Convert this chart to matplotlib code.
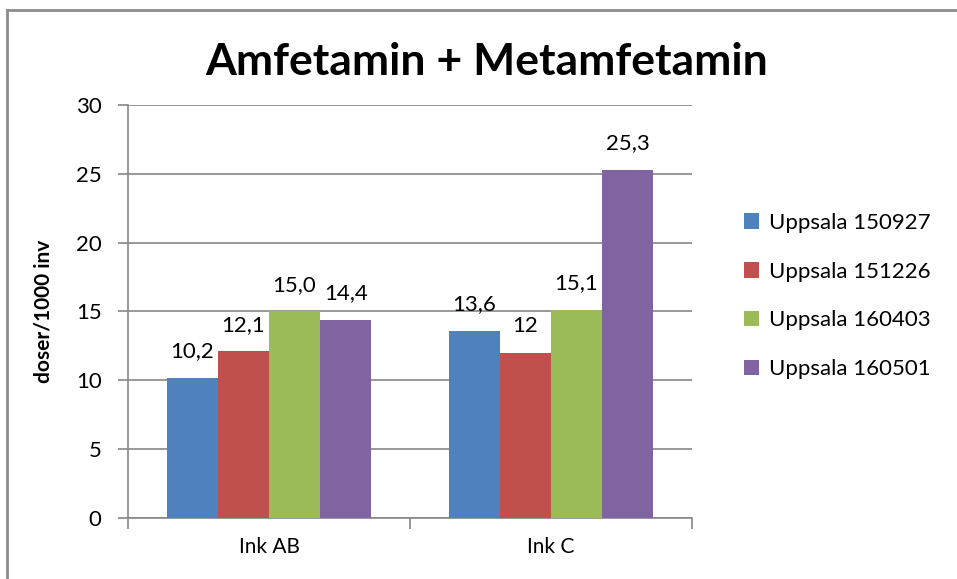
import numpy as np
import matplotlib
matplotlib.use("Agg")
import matplotlib.pyplot as plt
from matplotlib.lines import Line2D
from matplotlib.patches import Patch

plt.rcParams['font.family'] = ['Lato', 'DejaVu Sans']

categories = ['Ink AB', 'Ink C']
series = ['Uppsala 150927', 'Uppsala 151226', 'Uppsala 160403', 'Uppsala 160501']
values = [
    [10.2, 13.6],
    [12.1, 12.0],
    [15.0, 15.1],
    [14.4, 25.3],
]
labels = [
    ['10,2', '13,6'],
    ['12,1', '12'],
    ['15,0', '15,1'],
    ['14,4', '25,3'],
]
colors = ['#4F81BD', '#C0504D', '#9BBB59', '#8064A2']
yticks = [0, 5, 10, 15, 20, 25, 30]

fig = plt.figure(figsize=(9.57, 5.79), dpi=100)
ax = fig.add_axes([0.1338, 0.1054, 0.5893, 0.7133])

x = np.arange(len(categories))
bw = 0.181
for i, (vals, lab, c) in enumerate(zip(values, labels, colors)):
    pos = x + (i - 1.5) * bw
    ax.bar(pos, vals, width=bw, color=c, zorder=3)
    for p, v, t in zip(pos, vals, lab):
        ax.text(p, v + 1.2, t, ha='center', va='bottom', fontsize=16, color='black')

ax.set_xlim(-0.5, 1.5)
ax.set_ylim(0, 30)
ax.set_yticks(yticks)
ax.set_yticklabels([str(t) for t in yticks], fontsize=16)
ax.yaxis.grid(True, color='#868686', linewidth=1.2, zorder=0)
ax.tick_params(axis='y', length=7, color='#868686', width=1.2, pad=12)

ax.set_xticks([-0.5, 0.5, 1.5])
ax.set_xticklabels([])
ax.tick_params(axis='x', which='major', length=8, color='#868686', width=1.2)
ax.set_xticks(x, minor=True)
ax.set_xticklabels(categories, minor=True, fontsize=15)
ax.tick_params(axis='x', which='minor', length=0, pad=14)

for s in ['top', 'right']:
    ax.spines[s].set_visible(False)
for s in ['left', 'bottom']:
    ax.spines[s].set_color('#868686')
    ax.spines[s].set_linewidth(1.2)

ax.set_ylabel('doser/1000 inv', fontsize=15, fontweight='bold', labelpad=16)

fig.text(0.509, 0.893, 'Amfetamin + Metamfetamin', ha='center', va='center',
         fontsize=32, fontweight='bold')

handles = [Patch(facecolor=c) for c in colors]
fig.legend(handles, series, loc='upper left', bbox_to_anchor=(0.768, 0.648),
           frameon=False, fontsize=16, handlelength=0.7, handleheight=0.7,
           handletextpad=0.45, labelspacing=1.3, borderaxespad=0)

# chart border (only top and left visible in the crop)
fig.add_artist(Line2D([6.5 / 957, 1.0], [1 - 9.5 / 579] * 2, color='#8c8c8c', linewidth=2))
fig.add_artist(Line2D([6.5 / 957] * 2, [0.0, 1 - 9.5 / 579], color='#8c8c8c', linewidth=2))

fig.savefig('out.png', dpi=100)
